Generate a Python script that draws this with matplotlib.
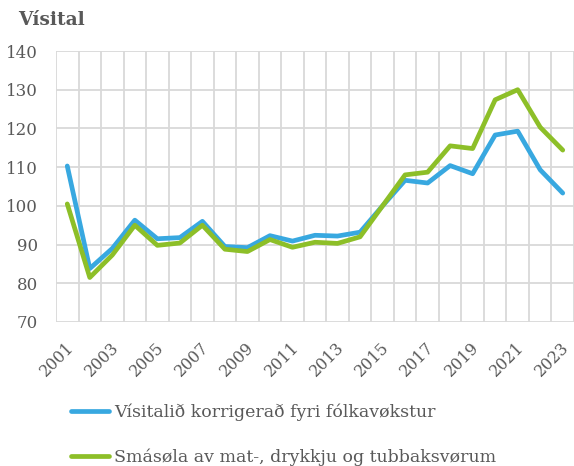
import matplotlib.pyplot as plt
from matplotlib.lines import Line2D
from matplotlib.transforms import ScaledTranslation

# data
years = list(range(2001, 2024))
visital = [110.3, 83.8, 89.0, 96.3, 91.5, 91.8, 96.0, 89.5, 89.2, 92.3, 90.9, 92.4,
           92.2, 93.2, 100.0, 106.6, 105.9, 110.4, 108.3, 118.3, 119.3, 109.3, 103.3]
smasola = [100.5, 81.5, 87.3, 95.0, 89.8, 90.4, 95.0, 88.8, 88.2, 91.3, 89.3, 90.6,
           90.3, 92.0, 100.0, 108.0, 108.7, 115.5, 114.8, 127.4, 130.0, 120.3, 114.4]
labels = ['Vísitalið korrigerað fyri fólkavøkstur',
          'Smásøla av mat-, drykkju og tubbaksvørum']
colors = ['#38a8e0', '#8dbf28']
grey = '#595959'

plt.rcParams['font.family'] = ['DejaVu Serif']

fig = plt.figure(figsize=(5.74, 4.66), dpi=100)
ax = fig.add_axes([56 / 574, 1 - 322 / 466, 518 / 574, 271 / 466])

x = list(range(len(years)))
ax.plot(x, visital, color=colors[0], lw=3.4, solid_capstyle='round', zorder=3)
ax.plot(x, smasola, color=colors[1], lw=3.4, solid_capstyle='round', zorder=3)

ax.set_xlim(-0.5, len(years) - 0.5)
ax.set_ylim(70, 140)
ax.set_yticks(range(70, 141, 10))

# gridlines sit between categories, like Excel
ax.set_xticks([i - 0.5 for i in range(len(years) + 1)], minor=True)
ax.set_xticks(x[::2])
ax.set_xticklabels([str(y) for y in years[::2]], rotation=45, ha='right',
                   rotation_mode='anchor')
ax.grid(True, which='minor', axis='x', color='#d9d9d9', lw=1.3)
ax.grid(True, which='major', axis='y', color='#d9d9d9', lw=1.3)
ax.tick_params(which='both', length=0)
ax.tick_params(axis='both', colors=grey)
ax.tick_params(axis='y', pad=13, labelsize=12)
ax.tick_params(axis='x', pad=12, labelsize=11.5)
shift = ScaledTranslation(-2 / 100, 0, fig.dpi_scale_trans)
for lab in ax.get_xticklabels():
    lab.set_transform(lab.get_transform() + shift)
for s in ax.spines.values():
    s.set_visible(False)

fig.text(18 / 574, 1 - 20 / 466, 'Vísital', fontsize=13.4, fontweight='bold',
         color=grey, va='center')

handles = [Line2D([0], [0], color=c, lw=3.4, solid_capstyle='round') for c in colors]
fig.legend(handles, labels, loc='lower left', bbox_to_anchor=(68 / 574, -3 / 466),
           frameon=False, fontsize=12.5, labelcolor=grey, handlelength=2.2,
           handletextpad=0.3, labelspacing=1.6, borderaxespad=0, borderpad=0.15)

fig.savefig('out.png', dpi=100)
